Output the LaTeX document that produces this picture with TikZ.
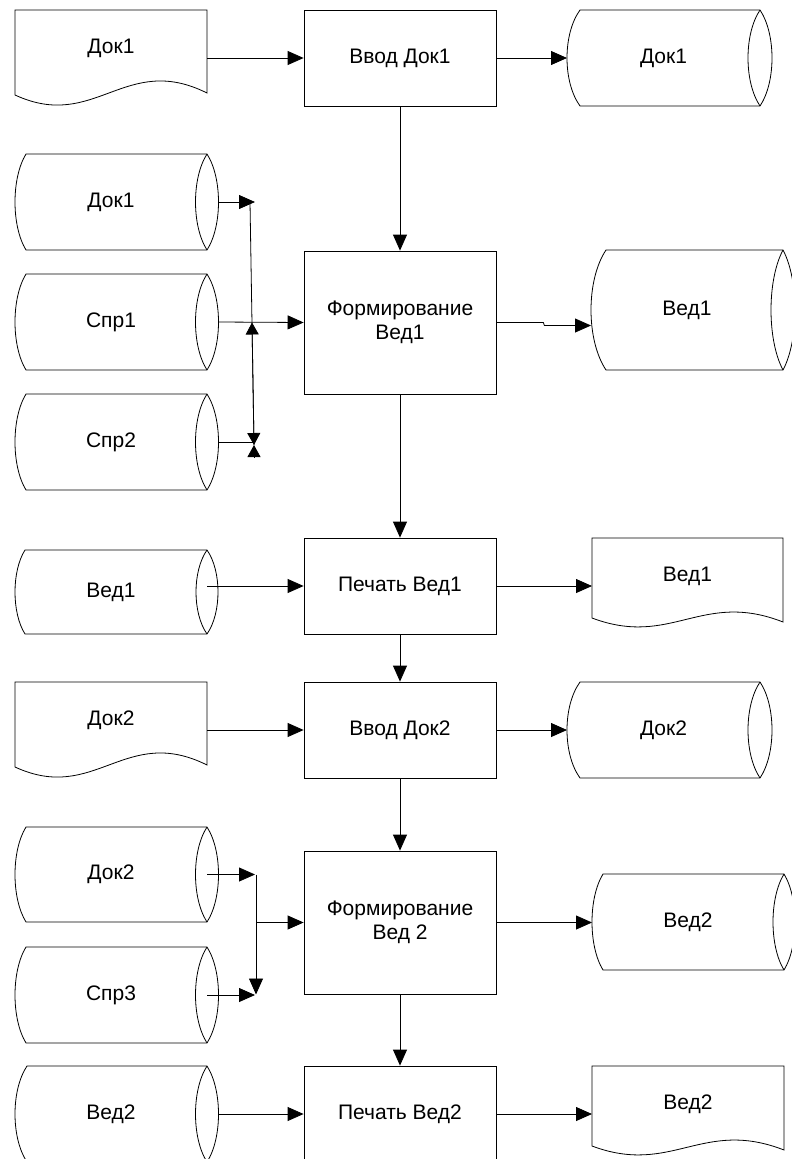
\documentclass[tikz,border=0pt]{standalone}
\usepackage{fontspec}
\setmainfont{Liberation Sans}
\usetikzlibrary{arrows.meta,calc}

% Horizontal storage drum: #1 name, #2 left bulge x, #3 bulge depth,
% #4 x of the right lens centre, #5 lens half width, #6 top, #7 bottom, #8 label
\newcommand\storage[8]{%
  \draw[outline] ({#2+#3},#6) -- (#4,#6)
    .. controls ({#4+4*#5/3},{#6+0.25*(#7-#6)}) and ({#4+4*#5/3},{#7-0.25*(#7-#6)}) .. (#4,#7)
    -- ({#2+#3},#7)
    .. controls ({#2-#3/3},{#7-0.25*(#7-#6)}) and ({#2-#3/3},{#6+0.25*(#7-#6)}) .. cycle;
  \draw[outline] (#4,#6)
    .. controls ({#4-4*#5/3},{#6+0.25*(#7-#6)}) and ({#4-4*#5/3},{#7-0.25*(#7-#6)}) .. (#4,#7);
  \coordinate (#1-w) at (#2,{(#6+#7)/2});
  \coordinate (#1-c) at (#4,{(#6+#7)/2});
  \coordinate (#1-e) at ({#4+#5},{(#6+#7)/2});
  \node[lbl] (#1) at ({(#2+#4)/2},{(#6+#7)/2}) {#8};
}

% Paper document with a wavy lower edge: #1 name, #2 left x, #3 width, #4 top,
% #5 left lower corner, #6 right lower corner, #7 label, #8 dip, #9 rise
\newcommand\docsheet[9]{%
  \draw[outline] (#2,#5) -- (#2,#4) -- ({#2+#3},#4) -- ({#2+#3},#6)
    .. controls ({#2+0.573*#3},{#5-#9}) and ({#2+0.417*#3},{#5+#8}) .. cycle;
  \coordinate (#1-w) at (#2,#4);
  \coordinate (#1-e) at ({#2+#3},#4);
  \node[lbl, anchor=base] (#1) at ({#2+#3/2},{#4+43}) {#7};
}

\begin{document}
\begin{tikzpicture}[x=1pt,y=-1pt,
  outline/.style={draw=black, line width=0.8pt},
  arr/.style={draw=black, line width=0.8pt, -{Triangle[length=16pt,width=14pt]}},
  shortarr/.style={draw=black, line width=0.8pt, -{Triangle[length=12pt,width=13pt]}},
  lbl/.style={font=\fontsize{21}{24.5}\selectfont, inner sep=0pt, align=center},
  proc/.style={outline, lbl, minimum width=192pt, minimum height=96pt}]
\useasboundingbox (0,0) rectangle (792,1159);

% ---- input of Док1
\docsheet{srcA}{15}{192}{10}{95}{93}{Док1}{37}{43}
\node[proc] (inA) at (400,58) {Ввод Док1};
\storage{outA}{567}{13}{760}{12}{10}{106}{Док1}
\draw[arr] (inA.west -| srcA-e) -- (inA.west);
\draw[arr] (inA.east) -- (inA.east -| outA-w);

% ---- forming Вед1
\storage{dokA}{15}{11}{207}{11.5}{154}{250}{Док1}
\storage{sprA}{15}{11}{207}{11.5}{274}{370}{Спр1}
\storage{sprB}{15}{11}{207}{11.5}{394}{490}{Спр2}
\node[proc, minimum height=143pt] (formA) at (400,322.5) {Формирование\\Вед1};
\storage{vedA}{591}{15}{783}{12}{250}{370}{Вед1}

\coordinate (j1) at (255,202);
\coordinate (j1s) at (250,202);
\coordinate (j2) at (252,322.5);
\coordinate (j3) at (254,445);
\coordinate (j4) at (254,457);
\draw[arr] (dokA-e) -- (j1);
\draw[shortarr] (j1s) -- (j3);
\draw[shortarr] (j3) -- (j2);
\draw[shortarr] (j4) -- (j3);
\draw[outline] (sprB-e) -- (sprB-e -| j3);
\draw[arr] (sprA-e) -- (formA.west);

\coordinate (s1) at ($(formA.east)+(47,0)$);
\coordinate (s2) at ($(formA.east)+(48,3)$);
\draw[arr] (formA.east) -- (s1) -- (s2) -- (s2 -| vedA-w);
\draw[arr] (inA.south) -- (formA.north);

% ---- printing Вед1
\storage{vedB}{15}{10}{207}{11}{550}{634}{Вед1}
\node[proc] (prA) at (400,586) {Печать Вед1};
\docsheet{repA}{592}{191}{538}{618}{622}{Вед1}{30}{28}
\draw[arr] (prA.west -| vedB-c) -- (prA.west);
\draw[arr] (prA.east) -- (prA.east -| repA-w);
\draw[arr] (formA.south) -- (prA.north);

% ---- input of Док2
\docsheet{srcB}{15}{192}{682}{767}{765}{Док2}{37}{43}
\node[proc] (inB) at (400,730) {Ввод Док2};
\storage{outB}{567}{13}{760}{12}{682}{778}{Док2}
\draw[arr] (inB.west -| srcB-e) -- (inB.west);
\draw[arr] (inB.east) -- (inB.east -| outB-w);
\draw[arr] (prA.south) -- (inB.north);

% ---- forming Вед 2
\storage{dokB}{15}{11}{207}{11.5}{827}{922}{Док2}
\storage{sprC}{15}{11}{207}{11.5}{947}{1043}{Спр3}
\node[proc, minimum height=143pt] (formB) at (400,922.5) {Формирование\\Вед 2};
\storage{vedC}{592}{11}{784}{11}{874}{970}{Вед2}

\coordinate (k1) at (255,874.5);
\coordinate (k1s) at (256,874.5);
\coordinate (k2) at (256,994.5);
\draw[arr] (dokB-c) -- (k1);
\draw[arr] (k1s) -- (k2);
\draw[arr] (sprC-c) -- (sprC-c -| k1);
\draw[arr] (formB.west -| k1s) -- (formB.west);
\draw[arr] (formB.east) -- (formB.east -| vedC-w);
\draw[arr] (inB.south) -- (formB.north);

% ---- printing Вед2
\storage{vedD}{15}{12}{207}{11.5}{1066}{1162}{Вед2}
\node[proc] (prB) at (400,1114) {Печать Вед2};
\docsheet{repB}{592}{192}{1066}{1146}{1150}{Вед2}{30}{28}
\draw[arr] (prB.west -| vedD-e) -- (prB.west);
\draw[arr] (prB.east) -- (prB.east -| repB-w);
\draw[arr] (formB.south) -- (prB.north);
\end{tikzpicture}
\end{document}
